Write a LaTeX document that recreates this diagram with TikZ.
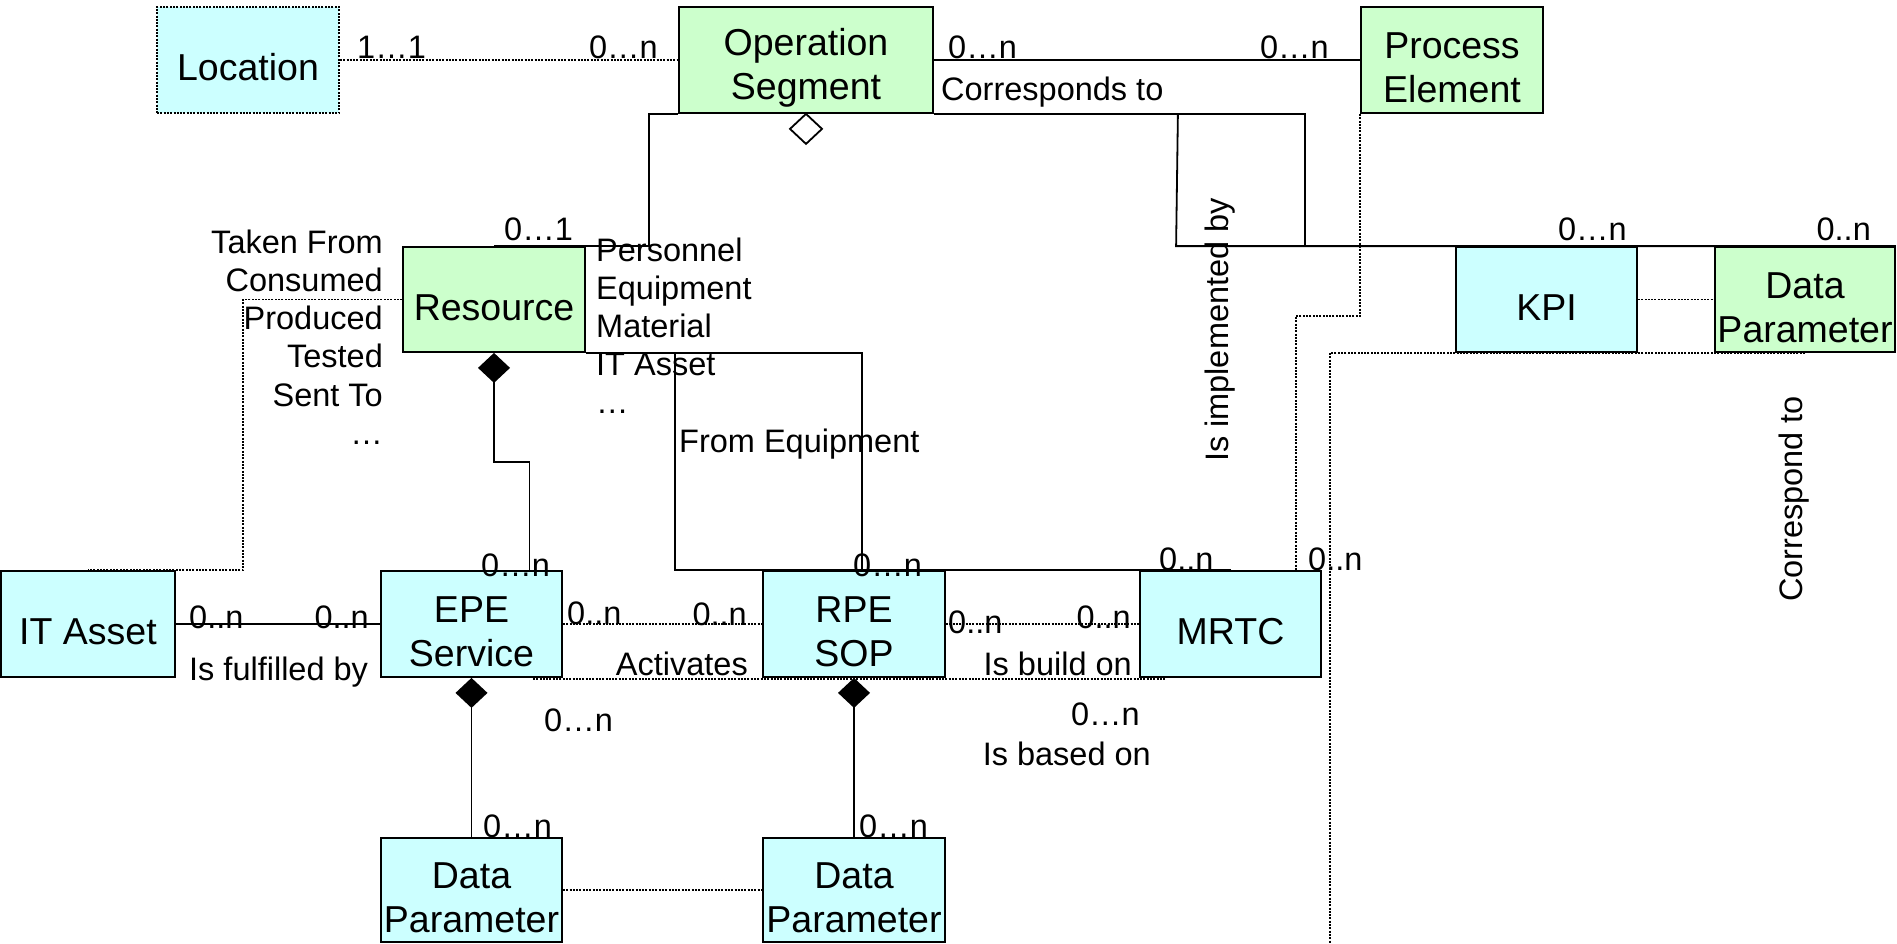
\documentclass[tikz,border=0pt]{standalone}
\usepackage{fontspec}
\setmainfont{Liberation Sans}
\usetikzlibrary{arrows.meta,calc}
\definecolor{cy}{RGB}{204,255,255}
\definecolor{gr}{RGB}{204,255,204}
\newcommand\mystrut{\rule{0pt}{42pt}}
\begin{document}
\begin{tikzpicture}[x=1pt,y=-1pt,
 box/.style={draw,line width=1.8pt,inner sep=0pt,align=center,font=\fontsize{37.5}{44}\selectfont},
 boxc/.style={box,fill=cy},
 boxg/.style={box,fill=gr},
 lbl/.style={inner sep=0pt,font=\fontsize{32.5}{38}\selectfont},
 ln/.style={line width=1.8pt},
 dt/.style={line width=1.8pt,dash pattern=on 2pt off 1.3pt},
 comp/.style={{Diamond[length=30pt,width=32pt]}-},
]
\useasboundingbox (0,0) rectangle (1897,943);

% boxes
\node[boxc,dash pattern=on 2pt off 1.3pt,minimum width=182pt,minimum height=106pt] (loc) at (248,60) {\mystrut Location};
\node[boxg,minimum width=254pt,minimum height=106pt] (os) at (806,60) {\mystrut Operation\\Segment};
\node[boxg,minimum width=182pt,minimum height=106pt] (pe) at (1452,60) {\mystrut Process\\Element};
\node[boxg,minimum width=182pt,minimum height=105pt] (res) at (494,299.5) {\mystrut Resource};
\node[boxc,minimum width=181pt,minimum height=105pt] (kpi) at (1546.5,299.5) {\mystrut KPI};
\node[boxg,minimum width=180pt,minimum height=105pt] (dpr) at (1805,299.5) {\mystrut Data\\Parameter};
\node[boxc,minimum width=174pt,minimum height=106pt] (ita) at (88,624) {\mystrut IT Asset};
\node[boxc,minimum width=181pt,minimum height=106pt] (epe) at (471.5,624) {\mystrut EPE\\Service};
\node[boxc,minimum width=182pt,minimum height=106pt] (rpe) at (854,624) {\mystrut RPE\\SOP};
\node[boxc,minimum width=181pt,minimum height=106pt] (mrtc) at (1230.5,624) {\mystrut MRTC};
\node[boxc,minimum width=181pt,minimum height=104pt] (dpl) at (471.5,890) {\mystrut Data\\Parameter};
\node[boxc,minimum width=182pt,minimum height=104pt] (dpm) at (854,890) {\mystrut Data\\Parameter};

% connectors
\draw[dt] (loc.east) -- (os.west);
\draw[ln] (os.east) -- (pe.west);
\draw[ln] (os.south west) -- ++(-29,0) |- (res.north);
\draw[ln] (os.south east) -| ($(kpi.north west)+(-150,0)$) -- (kpi.north);
\draw[ln] ($(os.south east)+(244,0)$) -- ($(kpi.north west)+(-279,0)$) -- (dpr.north east);
\draw[ln,fill=white] (os.south) -- ++(16,15) -- ++(-16,15) -- ++(-16,-15) -- cycle;
\draw[dt] (pe.south west) -- ++(0,202) -| ($(mrtc.north east)+(-26,0)$);
\draw[ln] (res.south east) -| ($(rpe.north)+(8,0)$);
\draw[ln] (res.south east) -- ++(89,0) |- (mrtc.north);
\draw[ln,comp] (res.south) -- ++(0,109) -| ($(epe.north)+(58,0)$);
\draw[dt] (res.west) -- ++(-159,0) |- (ita.north);
\draw[ln] (ita.east) -- (epe.west);
\draw[dt] (epe.east) -- (rpe.west);
\draw[dt] ($(epe.south east)+(-30,1)$) -- ($(mrtc.south west)+(26,1)$);
\draw[dt] (rpe.east) -- (mrtc.west);
\draw[ln,comp] (epe.south) -- (dpl.north);
\draw[ln,comp] (rpe.south) -- (dpm.north);
\draw[dt] (dpl.east) -- (dpm.west);
\draw[dt] (kpi.east) -- (dpr.west);
\coordinate (cend) at (1330,943);
\draw[dt] (dpr.south) -| (cend);

% labels
\node[lbl,anchor=base west] (a1) at (357,58) {1…1};
\node[lbl,anchor=base east] (a2) at (658,58) {0…n};
\node[lbl,anchor=base west] (a3) at (948,58) {0…n};
\node[lbl,anchor=base east] (a4) at (1329,58) {0…n};
\node[lbl,anchor=base west] (a5) at (941,100) {Corresponds to};
\node[lbl,anchor=base west] (a6) at (504,240) {0…1};
\node[lbl,anchor=base east] (a7) at (1627,240) {0…n};
\node[lbl,anchor=base east] (a8) at (1871,240) {0..n};
\node[lbl,rotate=90] (a9) at (1220,330) {Is implemented by};
\node[lbl,rotate=90] (a10) at (1794,499) {Correspond to};
\foreach \t [count=\i from 0] in {Taken From,Consumed,Produced,Tested,Sent To,…}
  \node[lbl,anchor=base east] (tf\i) at (383,{253+38.3*\i}) {\t};
\foreach \t [count=\i from 0] in {Personnel,Equipment,Material,IT Asset,…}
  \node[lbl,anchor=base west] (rk\i) at (596,{261+38*\i}) {\t};
\node[lbl,anchor=base west] (a11) at (679,452) {From Equipment};
\node[lbl,anchor=base west] (a12) at (481,576) {0…n};
\node[lbl,anchor=base west] (a13) at (853,576) {0…n};
\node[lbl,anchor=base west] (a14) at (1159,570) {0..n};
\node[lbl,anchor=base west] (a15) at (1308,570) {0..n};
\node[lbl,anchor=base west] (a16) at (189,628) {0..n};
\node[lbl,anchor=base east] (a17) at (369,628) {0..n};
\node[lbl,anchor=base west] (a18) at (189,680) {Is fulfilled by};
\node[lbl,anchor=base west] (a19) at (567,624) {0..n};
\node[lbl,anchor=base east] (a20) at (747,625) {0..n};
\node[lbl,anchor=base east] (a21) at (748,675) {Activates};
\node[lbl,anchor=base west] (a22) at (948,633) {0..n};
\node[lbl,anchor=base east] (a23) at (1131,628) {0..n};
\node[lbl,anchor=base east] (a24) at (1132,675) {Is build on};
\node[lbl,anchor=base west] (a25) at (544,731) {0…n};
\node[lbl,anchor=base east] (a26) at (1140,725) {0…n};
\node[lbl,anchor=base east] (a27) at (1151,765) {Is based on};
\node[lbl,anchor=base west] (a28) at (483,837) {0…n};
\node[lbl,anchor=base west] (a29) at (859,837) {0…n};
\end{tikzpicture}
\end{document}
